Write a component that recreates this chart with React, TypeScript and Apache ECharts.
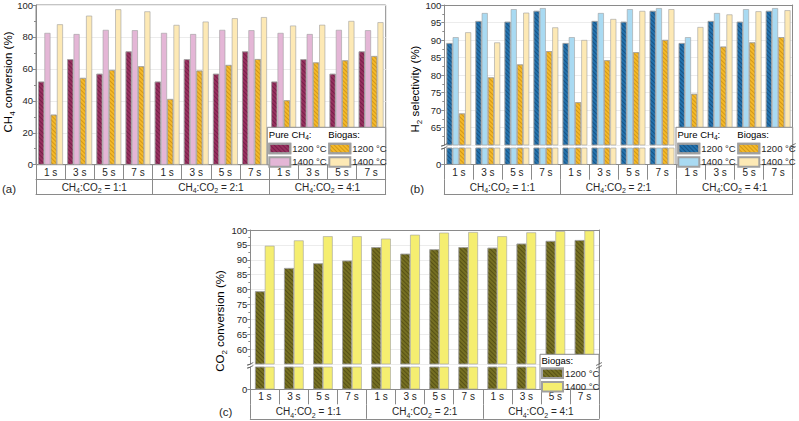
import React, { useEffect, useRef } from 'react';
import * as echarts from 'echarts';

// ---------- data ----------
const TIMES = ['1 s', '3 s', '5 s', '7 s'];
const SLOTS = ['1 s', '3 s', '5 s', '7 s', '1 s', '3 s', '5 s', '7 s', '1 s', '3 s', '5 s', '7 s'];
const RATIOS = ['1:1', '2:1', '4:1'];

// (a) CH4 conversion (%)
const aPure1200 = [52.0, 66.0, 56.9, 70.9, 52.0, 66.0, 56.9, 70.9, 52.0, 66.0, 56.9, 70.9];
const aPure1400 = [82.5, 81.8, 84.4, 84.2, 82.5, 81.8, 84.4, 84.2, 82.5, 81.8, 84.4, 84.2];
const aBio1200 = [31.3, 54.3, 59.3, 61.6, 41.1, 58.9, 62.4, 66.1, 40.3, 64.0, 65.3, 68.0];
const aBio1400 = [87.9, 93.3, 97.3, 96.0, 87.5, 89.6, 91.7, 92.4, 87.1, 87.6, 90.0, 89.2];

// (b) H2 selectivity (%)
const bPure1200 = [89.1, 95.4, 95.2, 98.3, 89.1, 95.4, 95.2, 98.3, 89.1, 95.4, 95.2, 98.3];
const bPure1400 = [90.8, 97.7, 98.8, 99.1, 90.8, 97.7, 98.8, 99.1, 90.8, 97.7, 98.8, 99.1];
const bBio1200 = [69.0, 79.3, 83.0, 86.8, 72.2, 84.2, 86.5, 90.0, 74.6, 88.1, 89.3, 90.8];
const bBio1400 = [92.2, 89.3, 97.8, 93.6, 90.0, 96.0, 98.3, 98.8, 93.7, 97.3, 98.2, 98.5];

// (c) CO2 conversion (%)
const cBio1200 = [79.4, 87.2, 88.8, 89.7, 94.2, 92.0, 93.5, 94.2, 94.0, 95.4, 96.3, 96.6];
const cBio1400 = [94.7, 96.5, 97.9, 97.9, 97.1, 98.4, 99.1, 99.3, 97.9, 99.2, 99.6, 99.8];

// ---------- styles ----------
const FONT = "'Liberation Sans', Arial, sans-serif";
const TXT = '#262626';
const GRAY = '#8a8a8a';
const SPLIT = '#ececec';

const COL = {
  maroon: '#97305f',
  pink: '#e4b6d6',
  orange: '#f4b92a',
  cream: '#fde9b5',
  blue: '#2372ad',
  lightBlue: '#a9daf2',
  olive: '#767023',
  yellow: '#f5ee70',
};

const hatch = (color: string) => ({
  symbol: 'rect',
  symbolSize: 1,
  dashArrayX: [1, 0],
  dashArrayY: [0.9, 1.3],
  rotation: Math.PI / 4,
  color,
});

const subRich = {
  n: { fontSize: 10, fontFamily: FONT, color: TXT, lineHeight: 14 },
  s: { fontSize: 7, fontFamily: FONT, color: TXT, lineHeight: 7, verticalAlign: 'bottom' },
};

function bar(name: string, data: number[], color: string, decalColor: string | null, xi: number, yi: number, wide: boolean) {
  return {
    type: 'bar',
    name,
    data,
    xAxisIndex: xi,
    yAxisIndex: yi,
    barGap: wide ? '0%' : '4%',
    barCategoryGap: wide ? '33%' : '15%',
    clip: true,
    silent: true,
    emphasis: { disabled: true },
    itemStyle: {
      color,
      borderColor: '#a0a0a0',
      borderWidth: 0.6,
      decal: decalColor ? hatch(decalColor) : undefined,
    },
  };
}

function slotAxis(gridIndex: number) {
  return {
    type: 'category', gridIndex, data: SLOTS, position: 'bottom',
    axisLine: { show: true, lineStyle: { color: GRAY, width: 1 } },
    axisTick: { show: true, length: 15, interval: 0, lineStyle: { color: GRAY } },
    axisLabel: { interval: 0, margin: 2.5, fontSize: 10, color: TXT, fontFamily: FONT },
    splitLine: { show: false },
  };
}
function midAxis(gridIndex: number) {
  return {
    type: 'category', gridIndex, data: RATIOS, position: 'bottom', offset: 15,
    axisLine: { show: true, lineStyle: { color: GRAY, width: 1 } },
    axisTick: { show: false }, axisLabel: { show: false }, splitLine: { show: false },
  };
}
function groupAxis(gridIndex: number) {
  return {
    type: 'category', gridIndex, data: RATIOS, position: 'bottom', offset: 29.5,
    axisLine: { show: true, lineStyle: { color: GRAY, width: 1 } },
    axisTick: { show: true, inside: true, length: 14.5, interval: 0, lineStyle: { color: GRAY } },
    axisLabel: {
      inside: true, interval: 0, margin: 0,
      formatter: (r: string) => `{n|CH}{s|4}{n|:CO}{s|2}{n| = ${r}}`,
      rich: subRich,
    },
    splitLine: { show: false },
  };
}
function topAxis(gridIndex: number) {
  return {
    type: 'category', gridIndex, data: SLOTS, position: 'top',
    axisLine: { show: true, lineStyle: { color: GRAY, width: 1 } },
    axisTick: { show: false }, axisLabel: { show: false }, splitLine: { show: false },
  };
}
function valAxis(gridIndex: number, min: number, max: number, interval: number, hide: number | null, fs: number) {
  return {
    type: 'value', gridIndex, min, max, interval, position: 'left',
    axisLine: { show: true, lineStyle: { color: GRAY, width: 1 } },
    axisTick: { show: true, length: 3, lineStyle: { color: GRAY } },
    minorTick: { show: true, splitNumber: 2, length: 2, lineStyle: { color: GRAY } },
    axisLabel: {
      fontSize: fs, margin: 3, color: TXT, fontFamily: FONT,
      formatter: (v: number) => (hide !== null && v === hide ? '' : String(v)),
    },
    splitLine: { show: true, lineStyle: { color: SPLIT, width: 1 } },
  };
}
function lowAxis(gridIndex: number, fs: number) {
  return {
    type: 'value', gridIndex, min: 0, max: 10, interval: 10, position: 'left',
    axisLine: { show: true, lineStyle: { color: GRAY, width: 1 } },
    axisTick: { show: true, length: 3, lineStyle: { color: GRAY } },
    axisLabel: {
      fontSize: fs, margin: 3, color: TXT, fontFamily: FONT,
      formatter: (v: number) => (v === 0 ? '0' : ''),
    },
    splitLine: { show: false },
  };
}
function rightAxis(gridIndex: number, min: number, max: number) {
  return {
    type: 'value', gridIndex, min, max, position: 'right',
    axisLine: { show: true, lineStyle: { color: GRAY, width: 1 } },
    axisTick: { show: false }, axisLabel: { show: false }, splitLine: { show: false },
  };
}
function legend(left: number, top: number, names: string[]) {
  return {
    orient: 'vertical', left, top, itemWidth: 21, itemHeight: 9.5, itemGap: 2, padding: 0,
    data: names, icon: 'rect', selectedMode: false, z: 10,
    formatter: (n: string) => n.slice(-7),
    textStyle: { fontSize: 9.5, color: TXT, fontFamily: FONT, padding: [0, 0, 0, -3] },
  };
}

const titleRich = {
  n: { fontSize: 11.5, fontFamily: FONT, color: TXT, lineHeight: 16 },
  s: { fontSize: 8, fontFamily: FONT, color: TXT, lineHeight: 8, verticalAlign: 'bottom' },
};
const hdrRich = {
  n: { fontSize: 9.5, fontFamily: FONT, color: TXT, lineHeight: 12 },
  s: { fontSize: 6.5, fontFamily: FONT, color: TXT, lineHeight: 6, verticalAlign: 'bottom' },
};

function title(x: number, y: number, text: string) {
  return {
    type: 'text', x, y, rotation: Math.PI / 2, z: 20,
    style: { text, rich: titleRich, align: 'center', verticalAlign: 'middle' },
  };
}
function label(x: number, y: number, text: string) {
  return {
    type: 'text', x, y, z: 20,
    style: { text, fontSize: 11.5, fontFamily: FONT, fill: TXT, align: 'left', verticalAlign: 'middle' },
  };
}
function box(x: number, y: number, w: number, h: number) {
  return {
    type: 'rect', z: 5, shape: { x, y, width: w, height: h },
    style: { fill: '#fff', stroke: GRAY, lineWidth: 1 },
  };
}
function header(x: number, y: number, text: string) {
  return {
    type: 'text', x, y, z: 20,
    style: { text, rich: hdrRich, align: 'left', verticalAlign: 'middle' },
  };
}
function breakMark(x: number, yTop: number, yBot: number) {
  const ls = { stroke: '#555', lineWidth: 0.8 };
  return [
    { type: 'line', z: 20, shape: { x1: x - 3, y1: yTop + 1.5, x2: x + 3, y2: yTop - 1.5 }, style: ls },
    { type: 'line', z: 20, shape: { x1: x - 3, y1: yBot + 1.5, x2: x + 3, y2: yBot - 1.5 }, style: ls },
  ];
}

export default function App() {
  const ref = useRef<HTMLDivElement>(null);
  useEffect(() => {
    if (!ref.current) return;
    const chart = echarts.init(ref.current, undefined, { renderer: 'svg' });

    const N = {
      ap12: '(a) Pure CH4 1200 °C', ap14: '(a) Pure CH4 1400 °C',
      ab12: '(a) Biogas 1200 °C', ab14: '(a) Biogas 1400 °C',
      bp12: '(b) Pure CH4 1200 °C', bp14: '(b) Pure CH4 1400 °C',
      bb12: '(b) Biogas 1200 °C', bb14: '(b) Biogas 1400 °C',
      cb12: '(c) Biogas 1200 °C', cb14: '(c) Biogas 1400 °C',
    };
    const dkMaroon = 'rgba(60,0,30,0.35)';
    const dkOrange = 'rgba(170,110,0,0.45)';
    const dkBlue = 'rgba(0,25,60,0.35)';
    const dkOlive = 'rgba(40,35,0,0.4)';

    const option: any = {
      animation: false,
      backgroundColor: '#fff',
      textStyle: { fontFamily: FONT },
      grid: [
        { left: 36, top: 5, width: 349.7, height: 159.7, show: true, borderColor: GRAY, borderWidth: 1, backgroundColor: 'transparent' },
        { left: 444.3, top: 5, width: 348.4, height: 140 },
        { left: 444.3, top: 148, width: 348.4, height: 16.7 },
        { left: 250.3, top: 230, width: 348.7, height: 134 },
        { left: 250.3, top: 367, width: 348.7, height: 22.3 },
      ],
      xAxis: [
        slotAxis(0), midAxis(0), groupAxis(0),
        topAxis(1),
        slotAxis(2), midAxis(2), groupAxis(2),
        topAxis(3),
        slotAxis(4), midAxis(4), groupAxis(4),
      ],
      yAxis: [
        valAxis(0, 0, 100, 20, null, 9.5),
        valAxis(1, 60, 100, 5, 60, 9.5),
        rightAxis(1, 60, 100),
        lowAxis(2, 9.5),
        rightAxis(2, 0, 10),
        valAxis(3, 55, 100, 5, 55, 9.5),
        rightAxis(3, 55, 100),
        lowAxis(4, 9.5),
        rightAxis(4, 0, 10),
      ],
      legend: [
        legend(268.3, 142.7, [N.ap12, N.ap14]),
        legend(328.3, 142.7, [N.ab12, N.ab14]),
        legend(677.3, 142.7, [N.bp12, N.bp14]),
        legend(737.3, 142.7, [N.bb12, N.bb14]),
        legend(541, 367.5, [N.cb12, N.cb14]),
      ],
      series: [
        // (a)
        bar(N.ap12, aPure1200, COL.maroon, dkMaroon, 0, 0, false),
        bar(N.ap14, aPure1400, COL.pink, null, 0, 0, false),
        bar(N.ab12, aBio1200, COL.orange, dkOrange, 0, 0, false),
        bar(N.ab14, aBio1400, COL.cream, null, 0, 0, false),
        // (b) upper
        bar(N.bp12, bPure1200, COL.blue, dkBlue, 3, 1, false),
        bar(N.bp14, bPure1400, COL.lightBlue, null, 3, 1, false),
        bar(N.bb12, bBio1200, COL.orange, dkOrange, 3, 1, false),
        bar(N.bb14, bBio1400, COL.cream, null, 3, 1, false),
        // (b) lower
        bar(N.bp12, bPure1200, COL.blue, dkBlue, 4, 3, false),
        bar(N.bp14, bPure1400, COL.lightBlue, null, 4, 3, false),
        bar(N.bb12, bBio1200, COL.orange, dkOrange, 4, 3, false),
        bar(N.bb14, bBio1400, COL.cream, null, 4, 3, false),
        // (c) upper
        bar(N.cb12, cBio1200, COL.olive, dkOlive, 7, 5, true),
        bar(N.cb14, cBio1400, COL.yellow, null, 7, 5, true),
        // (c) lower
        bar(N.cb12, cBio1200, COL.olive, dkOlive, 8, 7, true),
        bar(N.cb14, cBio1400, COL.yellow, null, 8, 7, true),
      ],
      graphic: [
        title(8, 82, '{n|CH}{s|4}{n| conversion (%)}'),
        title(415, 89, '{n|H}{s|2}{n| selectivity (%)}'),
        title(220, 321, '{n|CO}{s|2}{n| conversion (%)}'),
        label(2, 189, '(a)'),
        label(410, 189, '(b)'),
        label(219, 411.5, '(c)'),
        box(267.3, 127.3, 118.4, 37.4),
        box(676, 127.3, 116.7, 37.4),
        box(540, 354.3, 59, 35),
        header(268.8, 134.5, '{n|Pure CH}{s|4}{n|:}'),
        header(328.3, 134.5, '{n|Biogas:}'),
        header(677.5, 134.5, '{n|Pure CH}{s|4}{n|:}'),
        header(737.3, 134.5, '{n|Biogas:}'),
        header(541.5, 360.5, '{n|Biogas:}'),
        ...breakMark(444.3, 145, 148),
        ...breakMark(792.7, 145, 148),
        ...breakMark(250.3, 364, 367),
        ...breakMark(599, 364, 367),
      ],
    };
    chart.setOption(option);
    return () => chart.dispose();
  }, []);

  return (
    <div
      ref={ref}
      style={{ position: 'fixed', left: 0, top: 0, width: 799, height: 421, background: '#fff' }}
    />
  );
}
